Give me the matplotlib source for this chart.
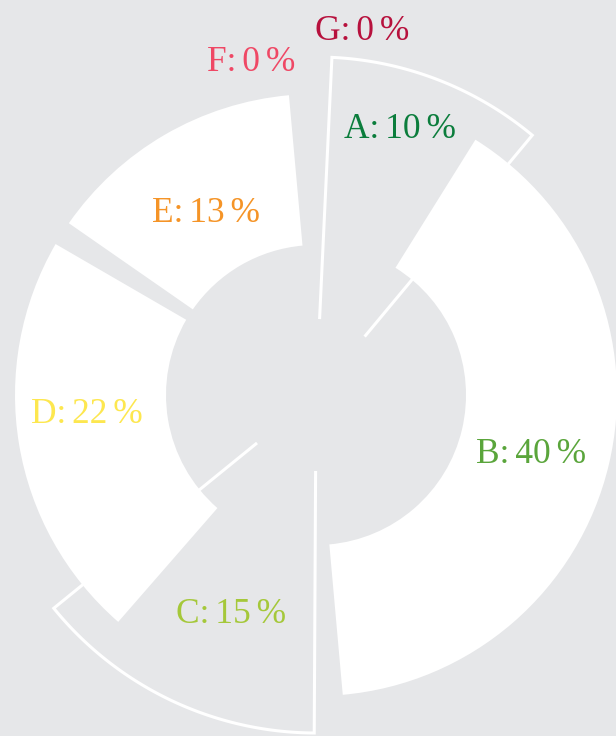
"""Pierścieniowy wykres udziałów A-G (klatka w trakcie animacji)."""

import numpy as np
import matplotlib.pyplot as plt

# Dane
names = ["A", "B", "C", "D", "E", "F", "G"]
label_pct = [10, 40, 15, 22, 13, 0, 0]
# udziały tak, jak są narysowane w tej klatce
shown_pct = [10.3, 39.7, 14.05, 21.95, 13.9]
filled = [False, True, False, True, True]
colors = ["#0b7d3c", "#5aa53b", "#a5c83a", "#fde74f", "#f59427", "#ef4865", "#b7113d"]

# Układ (w pikselach, środek wykresu w (316, 395))
drift = [2.7, -5.1, 0.3, -9.5, -4.8]
inner_fill, outer_fill = 150, 301
inner_line, outer_line = 76, 338
label_theta = [18.1, 107.5, 200.4, 263.0, 327.6, 348.7, 7.4]
label_r = [270, 226, 243, 231, 205, 330, 358]

bg = "#e6e7e9"
fig = plt.figure(figsize=(6.16, 7.36), dpi=100, facecolor=bg)
R = 360
cx, cy = 316, 736 - 395
ax = fig.add_axes([(cx - R) / 616, (cy - R) / 736, 2 * R / 616, 2 * R / 736],
                  projection="polar")
ax.set_theta_zero_location("N")
ax.set_theta_direction(-1)
ax.set_ylim(0, R)
ax.axis("off")
ax.patch.set_alpha(0)

widths = np.array(shown_pct) / 100 * 360
starts = np.concatenate([[0], np.cumsum(widths)[:-1]]) + np.array(drift)

for i in range(len(shown_pct)):
    th0 = np.deg2rad(starts[i])
    w = np.deg2rad(widths[i])
    if filled[i]:
        ax.bar(th0, outer_fill - inner_fill, width=w, bottom=inner_fill,
               align="edge", color="white", edgecolor="none", zorder=2 + i)
    else:
        # sam kontur bez wewnętrznego łuku
        arc = np.linspace(th0, th0 + w, 100)
        th = np.concatenate([[th0], arc, [th0 + w]])
        rr = np.concatenate([[inner_line], np.full(100, outer_line), [inner_line]])
        ax.plot(th, rr, color="white", lw=2.2, zorder=2 + i,
                solid_joinstyle="miter", solid_capstyle="butt")

for i, n in enumerate(names):
    txt = f"{n}:\u2006{label_pct[i]}\u2006%"
    ax.text(np.deg2rad(label_theta[i]), label_r[i], txt, color=colors[i],
            ha="center", va="baseline", fontsize=25.5,
            family=["Liberation Serif", "DejaVu Serif"], zorder=20,
            clip_on=False)

fig.savefig("out.png", dpi=100, facecolor=bg)
